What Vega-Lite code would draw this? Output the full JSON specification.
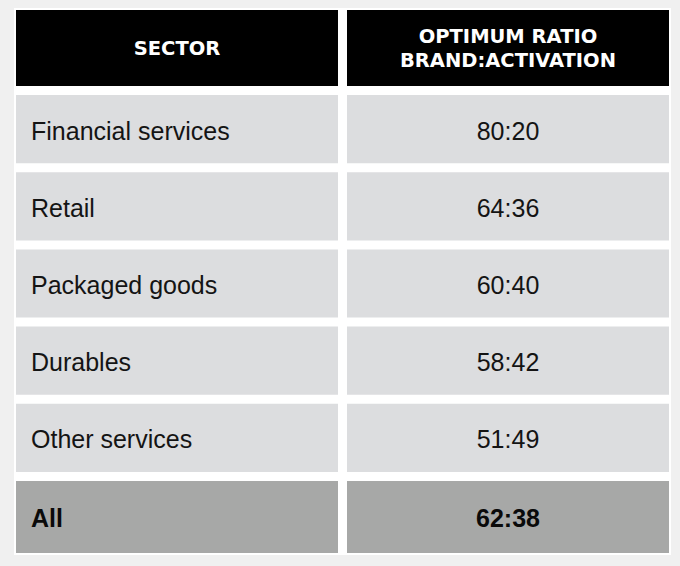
{
  "$schema": "https://vega.github.io/schema/vega-lite/v6.json",
  "background": "#f0f0f0",
  "padding": {"left": 14, "top": 8, "right": 9, "bottom": 11},
  "bounds": "flush",
  "spacing": 0,
  "config": {"view": {"fill": "white", "stroke": null}},
  "vconcat": [
    {
      "width": 657,
      "height": 87,
      "data": {"values": [
        {"column": "Sector", "label": "SECTOR"},
        {"column": "Optimum ratio", "label": ["OPTIMUM RATIO", "BRAND:ACTIVATION"]}
      ]},
      "encoding": {
        "x": {"field": "column", "type": "nominal", "scale": {"domain": ["Sector", "Optimum ratio"], "paddingInner": 0.0272, "paddingOuter": 0.00604}, "axis": null},
        "y": {"datum": "header", "type": "nominal", "scale": {"domain": ["header"], "paddingInner": 0, "paddingOuter": 0.0724, "align": 0.1818}, "axis": null}
      },
      "layer": [
        {"mark": {"type": "rect", "fill": "black"}},
        {"transform": [{"filter": "datum.column === 'Sector'"}],
         "mark": {"type": "text", "color": "white", "font": "DejaVu Sans", "fontWeight": "bold", "fontSize": 19.5, "baseline": "middle", "align": "center", "dy": 1},
         "encoding": {"text": {"field": "label"}}},
        {"transform": [{"filter": "datum.column !== 'Sector'"}],
         "mark": {"type": "text", "color": "white", "font": "DejaVu Sans", "fontWeight": "bold", "fontSize": 19.5, "lineHeight": 24.5, "baseline": "middle", "align": "center", "dy": -11},
         "encoding": {"text": {"field": "label"}}}
      ]
    },
    {
      "width": 657,
      "height": 386,
      "data": {"values": [
        {"Sector": "Financial services", "Optimum ratio": "80:20"},
        {"Sector": "Retail", "Optimum ratio": "64:36"},
        {"Sector": "Packaged goods", "Optimum ratio": "60:40"},
        {"Sector": "Durables", "Optimum ratio": "58:42"},
        {"Sector": "Other services", "Optimum ratio": "51:49"}
      ]},
      "transform": [{"fold": ["Sector", "Optimum ratio"], "as": ["column", "value"]}],
      "encoding": {
        "x": {"field": "column", "type": "nominal", "scale": {"domain": ["Sector", "Optimum ratio"], "paddingInner": 0.0272, "paddingOuter": 0.00604}, "axis": null},
        "y": {"field": "Sector", "type": "nominal", "scale": {"domain": ["Financial services", "Retail", "Packaged goods", "Durables", "Other services"], "paddingInner": 0.1166, "paddingOuter": 0.0583, "align": 0}, "axis": null}
      },
      "layer": [
        {"mark": {"type": "rect", "fill": "#dcdddf"}},
        {"transform": [{"filter": "datum.column === 'Sector'"}],
         "mark": {"type": "text", "color": "#141414", "font": "Liberation Sans", "fontSize": 25, "baseline": "middle", "align": "left", "dx": 15, "dy": 2.5},
         "encoding": {
           "x": {"field": "column", "type": "nominal", "bandPosition": 0},
           "text": {"field": "value"}}},
        {"transform": [{"filter": "datum.column !== 'Sector'"}],
         "mark": {"type": "text", "color": "#141414", "font": "Liberation Sans", "fontSize": 25, "baseline": "middle", "align": "center", "dy": 2.5},
         "encoding": {"text": {"field": "value"}}}
      ]
    },
    {
      "width": 657,
      "height": 74,
      "data": {"values": [
        {"Sector": "All", "Optimum ratio": "62:38"}
      ]},
      "transform": [{"fold": ["Sector", "Optimum ratio"], "as": ["column", "value"]}],
      "encoding": {
        "x": {"field": "column", "type": "nominal", "scale": {"domain": ["Sector", "Optimum ratio"], "paddingInner": 0.0272, "paddingOuter": 0.00604}, "axis": null},
        "y": {"field": "Sector", "type": "nominal", "scale": {"domain": ["All"], "paddingInner": 0, "paddingOuter": 0.01389, "align": 0}, "axis": null}
      },
      "layer": [
        {"mark": {"type": "rect", "fill": "#a7a8a7"}},
        {"transform": [{"filter": "datum.column === 'Sector'"}],
         "mark": {"type": "text", "color": "#0a0a0a", "font": "Liberation Sans", "fontWeight": "bold", "fontSize": 25, "baseline": "middle", "align": "left", "dx": 15, "dy": 2},
         "encoding": {
           "x": {"field": "column", "type": "nominal", "bandPosition": 0},
           "text": {"field": "value"}}},
        {"transform": [{"filter": "datum.column !== 'Sector'"}],
         "mark": {"type": "text", "color": "#0a0a0a", "font": "Liberation Sans", "fontWeight": "bold", "fontSize": 25, "baseline": "middle", "align": "center", "dy": 2},
         "encoding": {"text": {"field": "value"}}}
      ]
    }
  ]
}
